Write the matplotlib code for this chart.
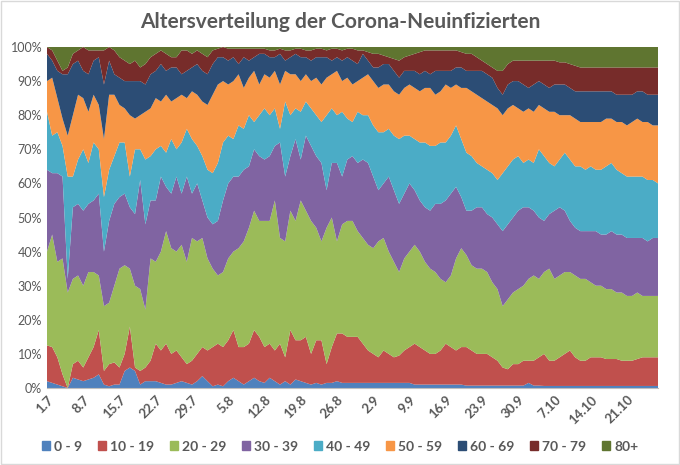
import numpy as np
import matplotlib
matplotlib.use("Agg")
import matplotlib.pyplot as plt
from matplotlib.ticker import PercentFormatter
import datetime as dt

groups = ["0 - 9", "10 - 19", "20 - 29", "30 - 39", "40 - 49", "50 - 59", "60 - 69", "70 - 79", "80+"]
colors = ["#4F81BD", "#C0504D", "#9BBB59", "#8064A2", "#4BACC6", "#F79646", "#2C4D75", "#772C2A", "#5F7530"]

# cumulative upper boundary (in %) of each age band, day by day from 1.7.
cum_0_9 = [2,1.5,1,0.5,0,3,2.5,2,2.5,3, 4,1,0.5,1,1,5,6,5,1,2, 2,2,1.5,1,1,1.5,2,1.5,1,2,
           3.5,2,0.5,1,0.5,2,3,2,1,2, 3,2,1.5,3,2,1,2,1,2.5,2, 1.5,1,1.5,1,1.5,1.5,2,1.5,1.5,1.5,
           1.5,1.5,1.5,1.5,1.5,1.5,1.5,1.5,1.5,1.5, 1.5,1,1,1,1,1,1,1,1,1, 1,0.7,0.7,0.7,0.7,0.7,0.7,0.7,0.7,0.7,
           0.7,0.7,0.7,1.5,0.7,0.7,0.6,0.6,0.6,0.6, 0.6,0.6,0.6,0.6,0.6,0.6,0.6,0.6,0.6,0.6, 0.6,0.6,0.6,0.6,0.6,0.6,0.6,0.6,0.6]
cum_10_19 = [12.5,12,9,4,0,7,8,6,9,12, 17,5,7,7.5,6,10,18,6,5,6, 8,13,11,13,10,11,9,7,8,10,
             12,11,12,13,12,14,17,12,12,13, 17,15,12,13,11,13,9,17,14,14, 15,10,14,14,7,12,16,16,15,15,
             15,13,11,10,9,11,10,9,9.5,11, 12,13,12,11,10,10,11,13,12,11, 12,12,11,10,10,10,9,8,6,5.5,
             7,7,8,8,8,9,10,8,8,9, 10,11,9,8,8,9,9,9,8.5,8.5, 8.5,8,8,8,8.5,9,9,9,9]
cum_20_29 = [40,45,37,38,28,32,33,30,34,34, 33,24,25,30,35,36,35,30,29,23, 38,37,40,46,41,40,42,37,44,43,
             44,38,35,33,34,38,40,41,43,47, 52,49,49,49,55,44,43,52,49,55, 52,49,47,43,47,50,43,48,49,49,
             46,44,42,41,43,44,40,37,34,38, 40,42,40,37,35,34,32,31,33,38, 41,39,36,35,35,34,31,29,24,26,
             28,29,30,32,33,32,34,35,32,33, 34,34,33,32,32,31,30,30,29,29, 28,28,27,27,28,27,27,27,27]
cum_30_39 = [64,63,63,62,32,53,54,52,54,55, 57,40,49,54,56,57,53,51,61,48, 55,55,62,59,57,62,57,62,57,60,
             55,50,48,49,55,60,62,62,64,65, 70,68,67,68,71,72,62,68,73,67, 74,71,68,66,58,66,66,62,67,68,
             66,67,66,62,58,60,62,58,54,57, 60,58,55,53,52,54,54,55,57,59, 56,52,52,53,53,51,50,48,46,48,
             50,52,53,53,52,50,49,51,52,53, 52,49,47,46,46,46,46,45,45,46, 45,45,44,44,44,44,43,44,44]
cum_40_49 = [81,74,75,71,62,62,67,70,66,72, 70,56,64,68,72,72,62,70,70,67, 68,70,71,69,73,70,72,76,73,71,
             68,64,63,66,72,74,73,77,76,80, 78,80,82,80,82,76,84,80,82,81, 84,82,80,78,80,82,80,81,79,78,
             81,80,80,77,75,75,76,74,73,74, 74,73,72,72,71,71,72,72,74,77, 73,69,68,66,65,64,63,61,63,65,
             67,68,66,67,66,70,68,66,65,67, 69,67,65,65,64,65,64,64,65,66, 64,63,62,62,62,62,61,61,60]
cum_50_59 = [90,91,85,79,74,80,86,85,81,86, 83,73,86,86,83,82,80,79,80,81, 82,85,84,86,84,85,86,85,87,86,
             84,83,86,89,90,89,90,92,88,91, 93,89,92,91,93,89,93,92,92,90, 92,90,91,89,91,92,93,90,91,89,
             90,91,92,90,88,89,89,87,86,88, 89,88,87,88,88,86,87,89,88,89, 88,88,87,86,85,84,83,82,80,82,
             83,82,81,82,81,83,82,81,81,80, 80,80,79,78,78,78,78,78,79,79, 78,78,77,78,79,78,78,77,77]
cum_60_69 = [98,96,93,92,92,95,96,93,92,96, 97,89,96,92,91,90,90,90,90,89, 92,93,95,93,94,94,92,93,94,95,
             93,92,95,97,97,96,97,95,97,96, 97,98,98,97,97,98,96,97,98,97, 97,96,97,97,97,96,97,96,97,96,
             95,98,96,94,94,95,95,93,91,93, 93,93,92,93,92,93,93,93,93,94, 94,93,93,93,93,92,91,88,86,89,
             90,90,89,88,89,90,89,88,89,89, 89,88,87,87,87,87,87,87,87,87, 86,86,86,86,87,87,86,86,86]
cum_70_79 = [100,99,96,93,94,98,99,100,99,99, 99,99,100,99,97,96,95,96,94,95, 97,98,99,98,97,97,99,99,98,99,
             98,97,99,99.5,100,99.5,99.5,99.5,99.5,99.5, 99.5,99.5,99.5,99,99,99.5,99,99,99.5,99.5,
             99,99,99.5,99.5,99,99.5,99.5,99,99.5,99.5,
             99,99,98.5,98,98,97.5,97,96.5,96,97, 97.5,98,98.5,99,99,99,99,99,99,99, 98.5,98,98,97,96,95,94,93,93,95,
             96,96,96,96,96,96,96,96,96,95.5, 95.5,95,94.5,94,94,94,94,94,94,94, 94,94,94,94,94,94,94,94,94]

cum = np.array([cum_0_9, cum_10_19, cum_20_29, cum_30_39, cum_40_49, cum_50_59,
                cum_60_69, cum_70_79, [100] * len(cum_0_9)], dtype=float)
cum = np.maximum.accumulate(cum, axis=0)
shares = np.diff(np.vstack([np.zeros(cum.shape[1]), cum]), axis=0) / 100.0

n = cum.shape[1]
days = np.arange(n)
start = dt.date(2020, 7, 1)
tick_pos = list(range(0, n - 1, 7))
tick_labels = [f"{(start + dt.timedelta(d)).day}.{(start + dt.timedelta(d)).month}" for d in tick_pos]

plt.rcParams["font.family"] = "Lato"
fig = plt.figure(figsize=(6.8, 4.65), dpi=100)
ax = fig.add_axes([47/680, 1 - 388/465, (658-47)/680, (388-47)/465])
ax.stackplot(days, shares, colors=colors, labels=groups, linewidth=0)
ax.set_xlim(0, n - 1)
ax.set_ylim(0, 1)
ax.yaxis.set_major_formatter(PercentFormatter(1.0, decimals=0))
ax.set_yticks(np.arange(0, 1.01, 0.1))
ax.set_xticks(tick_pos)
ax.set_xticklabels(tick_labels, rotation=45, ha="right", rotation_mode="anchor",
                   fontweight="bold", fontsize=9.5)
ax.tick_params(axis="both", colors="#595959", length=0)
ax.tick_params(axis="y", labelsize=9)
ax.tick_params(axis="x", pad=4)
for s in ["top", "right", "left"]:
    ax.spines[s].set_visible(False)
ax.spines["bottom"].set_color("#BFBFBF")
fig.suptitle("Altersverteilung der Corona-Neuinfizierten", y=0.975, fontsize=15,
             fontweight="bold", color="#595959")
handles = [plt.Rectangle((0, 0), 1, 1, color=c) for c in colors]
fig.legend(handles, groups, loc="lower center", ncol=9, frameon=False,
           prop={"size": 10, "weight": "bold"},
           bbox_to_anchor=(0.5, 0.0), handlelength=0.6, handleheight=0.6,
           columnspacing=1.1, handletextpad=0.3, labelcolor="#595959")
fig.patches.append(plt.Rectangle((0.002, 0.002), 0.996, 0.996, transform=fig.transFigure,
                                 fill=False, edgecolor="#D9D9D9", linewidth=1))
fig.savefig("out.png", dpi=100)
